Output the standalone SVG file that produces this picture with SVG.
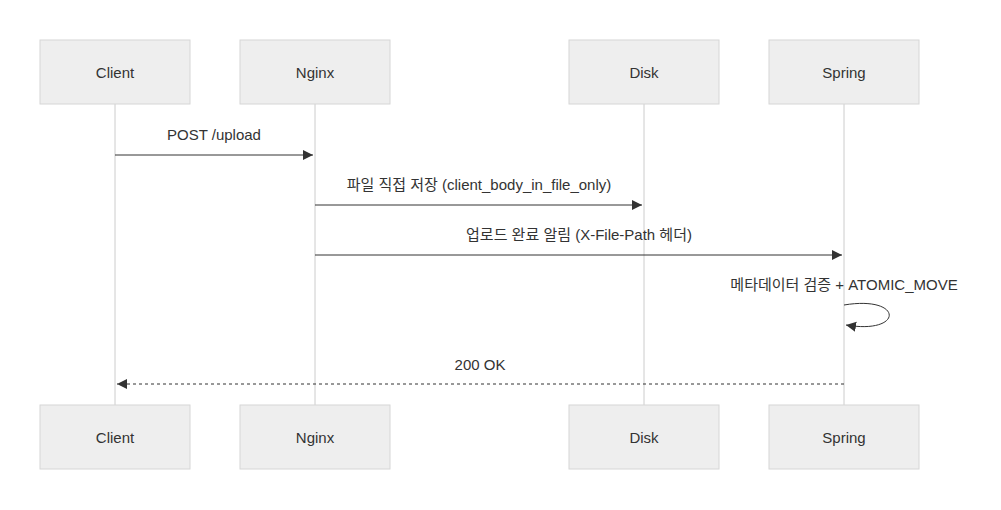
<svg xmlns="http://www.w3.org/2000/svg" width="1001" height="510" viewBox="0 0 1001 510">
<style>
.box{fill:#eeeeee;stroke:#d6d6d6;stroke-width:1}
.life{stroke:#cccccc;stroke-width:1}
.t{font-family:"Liberation Sans","Noto Sans CJK KR",sans-serif;font-size:15px;fill:#333;text-anchor:middle;dominant-baseline:central}
.m{stroke:#333;stroke-width:1;fill:none}
</style>
<defs>
<marker id="ah" markerWidth="12" markerHeight="12" refX="10" refY="5" orient="auto" markerUnits="userSpaceOnUse"><path d="M0,0 L10,5 L0,10 z" fill="#333"/></marker>
</defs>
<rect width="1001" height="510" fill="#fff"/>
<g id="lifelines">
<line class="life" x1="115" y1="104" x2="115" y2="405"/>
<line class="life" x1="315" y1="104" x2="315" y2="405"/>
<line class="life" x1="644" y1="104" x2="644" y2="405"/>
<line class="life" x1="844" y1="104" x2="844" y2="405"/>
</g>
<g id="client"><rect class="box" x="40" y="40" width="150" height="64"/><text class="t" x="115" y="72">Client</text><rect class="box" x="40" y="405" width="150" height="64"/><text class="t" x="115" y="437">Client</text></g>
<g id="nginx"><rect class="box" x="240" y="40" width="150" height="64"/><text class="t" x="315" y="72">Nginx</text><rect class="box" x="240" y="405" width="150" height="64"/><text class="t" x="315" y="437">Nginx</text></g>
<g id="disk"><rect class="box" x="569" y="40" width="150" height="64"/><text class="t" x="644" y="72">Disk</text><rect class="box" x="569" y="405" width="150" height="64"/><text class="t" x="644" y="437">Disk</text></g>
<g id="spring"><rect class="box" x="769" y="40" width="150" height="64"/><text class="t" x="844" y="72">Spring</text><rect class="box" x="769" y="405" width="150" height="64"/><text class="t" x="844" y="437">Spring</text></g>
<g id="connectors">
<line class="m" x1="115" y1="155" x2="313" y2="155" marker-end="url(#ah)"/>
<text class="t" x="214" y="134">POST /upload</text>
<line class="m" x1="315" y1="205" x2="642" y2="205" marker-end="url(#ah)"/>
<text class="t" x="479" y="184">파일 직접 저장 (client_body_in_file_only)</text>
<line class="m" x1="315" y1="255" x2="842" y2="255" marker-end="url(#ah)"/>
<text class="t" x="579" y="234">업로드 완료 알림 (X-File-Path 헤더)</text>
<path class="m" d="M844,305 C904,295 904,335 846,325" marker-end="url(#ah)"/>
<text class="t" x="844" y="284">메타데이터 검증 + ATOMIC_MOVE</text>
<line class="m" x1="844" y1="384" x2="117" y2="384" stroke-dasharray="3,3" marker-end="url(#ah)"/>
<text class="t" x="480" y="364">200 OK</text>
</g>
</svg>
